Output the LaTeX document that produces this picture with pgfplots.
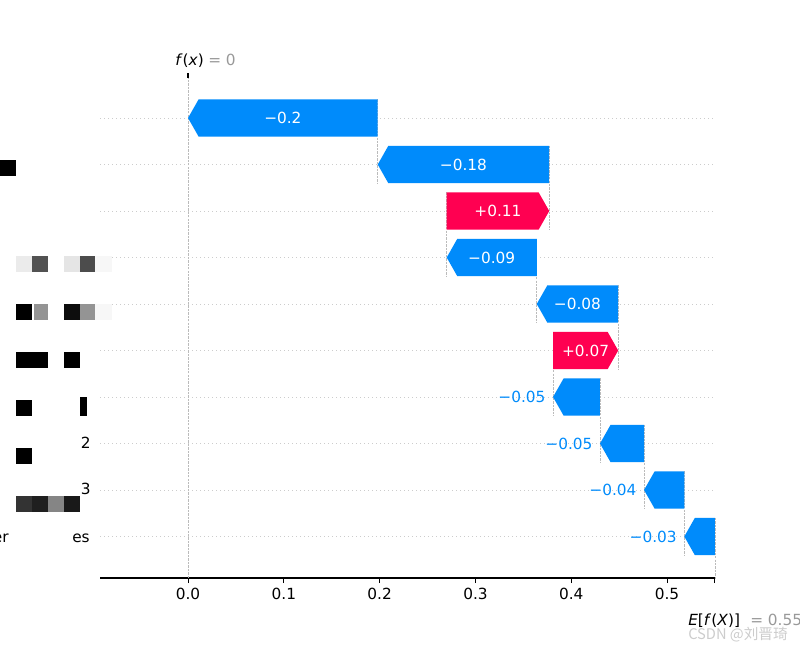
\documentclass[border=0pt]{standalone}
\usepackage{pgfplots}
\pgfplotsset{compat=1.18}
\usepackage{fontspec}
\setmainfont{DejaVu Sans}
\newfontfamily\cjk{Noto Sans CJK SC}
\definecolor{shapblue}{HTML}{008BFB}
\definecolor{shapred}{HTML}{FF0051}
\definecolor{gridgrey}{HTML}{CCCCCC}
\definecolor{linegrey}{HTML}{BBBBBB}
\definecolor{labgrey}{HTML}{999999}

% arrow bars: lower end, upper end, row
\newcommand{\negbar}[3]{%
  \addplot[fill=shapblue, draw=none] coordinates {
    (#2,{#3+0.4}) ({#1+0.011},{#3+0.4}) (#1,#3) ({#1+0.011},{#3-0.4}) (#2,{#3-0.4})};}
\newcommand{\posbar}[3]{%
  \addplot[fill=shapred, draw=none] coordinates {
    (#1,{#3+0.4}) ({#2-0.011},{#3+0.4}) (#2,#3) ({#2-0.011},{#3-0.4}) (#1,{#3-0.4})};}
% dashed connector from a row down to the next one
\newcommand{\conn}[2]{%
  \addplot[linegrey, line width=0.4pt, dash pattern=on 1.8pt off 0.8pt]
    coordinates {(#1,{#2+0.4}) (#1,{#2-1.4})};}
\newcommand{\inlab}[4]{\node[text=white] at (axis cs:{(#1+#2)/2},#3) {#4};}
\newcommand{\outlab}[3]{\node[anchor=east, text=shapblue] at (axis cs:{#1-0.003},#2) {#3};}

\begin{document}
\begin{tikzpicture}[font=\fontsize{11.5}{14}\selectfont]
% page = 800x650 px, 1px = 0.75pt, y downwards
\useasboundingbox (0,0) rectangle (600pt,-487.5pt);
\begin{axis}[
    at={(75pt,-433.5pt)}, anchor=south west,
    scale only axis, width=462pt, height=375pt,
    xmin=-0.0919, xmax=0.5511,
    ymin=0.108, ymax=10.86,
    axis x line*=bottom, axis y line=none,
    x axis line style={-, line width=0.8pt},
    xtick={0,0.1,0.2,0.3,0.4,0.5,0.55},
    xticklabels={0.0,0.1,0.2,0.3,0.4,0.5,{}},
    tick align=outside, major tick length=3.8pt,
    xtick style={line width=0.8pt, black},
    no marks]
  % dotted row lines
  \pgfplotsinvokeforeach{1,...,10}{
    \addplot[gridgrey, line width=0.4pt, dash pattern=on 0.5pt off 2.5pt]
      coordinates {(-0.0919,#1) (0.5511,#1)};
  }
  % f(x) line
  \addplot[linegrey, line width=0.4pt, dash pattern=on 1.8pt off 0.8pt]
    coordinates {(0,0.108) (0,10.86)};
  % connectors at the start of every bar
  \conn{0.198}{10}
  \conn{0.377}{9}
  \conn{0.270}{8}
  \conn{0.364}{7}
  \conn{0.449}{6}
  \conn{0.381}{5}
  \conn{0.430}{4}
  \conn{0.476}{3}
  \conn{0.518}{2}
  \conn{0.550}{1}
  % bars
  \negbar{0.000}{0.198}{10}
  \negbar{0.198}{0.377}{9}
  \posbar{0.270}{0.377}{8}
  \negbar{0.270}{0.364}{7}
  \negbar{0.364}{0.449}{6}
  \posbar{0.381}{0.449}{5}
  \negbar{0.381}{0.430}{4}
  \negbar{0.430}{0.476}{3}
  \negbar{0.476}{0.518}{2}
  \negbar{0.518}{0.550}{1}
  % value labels
  \inlab{0.000}{0.198}{10}{−0.2}
  \inlab{0.198}{0.377}{9}{−0.18}
  \inlab{0.270}{0.377}{8}{+0.11}
  \inlab{0.270}{0.364}{7}{−0.09}
  \inlab{0.364}{0.449}{6}{−0.08}
  \inlab{0.381}{0.449}{5}{+0.07}
  \outlab{0.381}{4}{−0.05}
  \outlab{0.430}{3}{−0.05}
  \outlab{0.476}{2}{−0.04}
  \outlab{0.518}{1}{−0.03}
\end{axis}
\begin{scope}[x=0.75pt, y=-0.75pt]
  % f(x) tick and label at the top
  \draw[line width=0.8pt] (188,78) -- (188,73);
  \node[anchor=base west, inner sep=0] at (175,65) {\textit{f}(\textit{x})};
  \node[anchor=base west, inner sep=0, text=labgrey] at (208,65) {= 0};
  % E[f(X)] label at the bottom
  \node[anchor=base west, inner sep=0] at (688,625) {\textit{E}[\textit{f}(\textit{X})]};
  \node[anchor=base west, inner sep=0, text=labgrey] at (750,625) {= 0.55};
  % watermark
  \node[anchor=west, inner sep=0, text=black!20] at (688,635) {\cjk\fontsize{11}{13}\selectfont CSDN @刘晋琦};
  % masked feature names
  \fill[black] (0,160) rectangle (16,176);
  \fill[black!8] (16,256) rectangle (32,272);
  \fill[black!68] (32,256) rectangle (48,272);
  \fill[black!10] (64,256) rectangle (80,272);
  \fill[black!70] (80,256) rectangle (95,272);
  \fill[black!3] (95,256) rectangle (112,272);
  \fill[black] (16,304) rectangle (32,320);
  \fill[black!42] (34,304) rectangle (48,320);
  \fill[black!95] (64,304) rectangle (80,320);
  \fill[black!42] (80,304) rectangle (95,320);
  \fill[black!3] (95,304) rectangle (112,320);
  \fill[black] (16,352) rectangle (48,368);
  \fill[black] (64,352) rectangle (80,368);
  \fill[black] (16,400) rectangle (32,416);
  \fill[black] (80,397) rectangle (87,416);
  \fill[black] (16,448) rectangle (32,464);
  \fill[black!80] (16,496) rectangle (32,512);
  \fill[black!88] (32,496) rectangle (48,512);
  \fill[black!48] (48,496) rectangle (64,512);
  \fill[black!90] (64,496) rectangle (80,512);
  \node[anchor=east, inner sep=0] at (91,443) {2};
  \node[anchor=east, inner sep=0] at (91,489) {3};
  \node[anchor=east, inner sep=0] at (9,538) {er};
  \node[anchor=east, inner sep=0] at (90,538) {es};
\end{scope}
\end{tikzpicture}
\end{document}
